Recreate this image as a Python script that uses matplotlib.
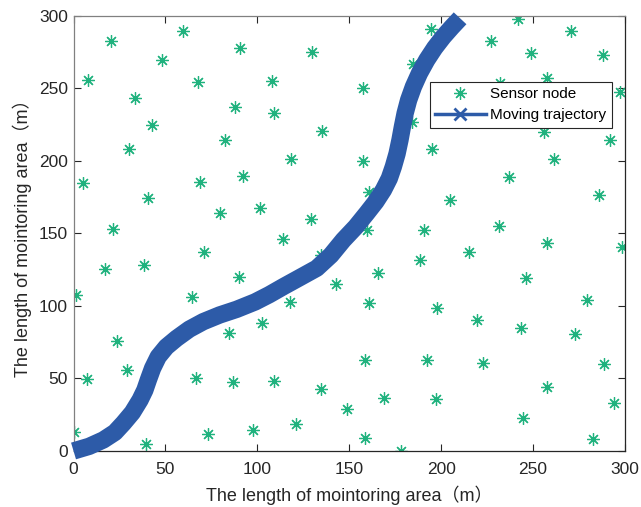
import matplotlib
matplotlib.use("Agg")
import matplotlib.pyplot as plt
from matplotlib.lines import Line2D

plt.rcParams['font.family'] = ['Liberation Sans', 'Noto Sans CJK SC', 'DejaVu Sans']

# Sensor node coordinates
sensor_x = [20.4, 59.4, 90.6, 8.1, 48.3, 67.6, 33.5, 88.0, 42.9, 30.0, 82.4,
            194.3, 129.6, 184.9, 108.0, 157.7, 109.1, 184.3, 135.2, 194.9, 118.5, 157.3,
            241.8, 270.5, 227.0, 248.7, 288.1, 257.6, 232.0, 297.3, 256.1, 291.9, 261.4,
            5.0, 68.8, 92.4, 40.5, 79.7, 101.7, 21.7, 71.0, 17.3, 38.4, 90.2, 1.4, 64.5,
            160.9, 129.1, 204.7, 114.1, 159.8, 190.9, 134.5, 188.5, 165.7, 142.8, 117.8,
            161.0, 198.0, 237.1, 286.1, 231.5, 257.8, 298.3, 215.3, 246.2, 279.4,
            23.5, 84.8, 102.6, 28.9, 7.5, 66.5, 86.6, 0.0, 39.4, 73.0, 97.4,
            158.8, 192.2, 109.1, 134.5, 168.9, 197.1, 149.0, 120.9, 158.8, 178.0,
            219.4, 243.3, 273.0, 222.6, 288.6, 257.5, 294.2, 244.4, 282.8]
sensor_y = [283.0, 289.4, 278.1, 255.9, 269.7, 254.3, 243.7, 237.0, 224.8, 208.1, 214.3,
            291.2, 275.4, 266.9, 255.2, 250.1, 233.3, 226.9, 220.7, 208.5, 201.4, 199.7,
            297.7, 289.9, 282.8, 274.7, 273.1, 257.4, 253.8, 247.8, 220.2, 214.5, 201.2,
            185.0, 185.5, 189.7, 174.5, 163.9, 167.9, 153.3, 137.0, 125.5, 128.3, 119.8, 107.8, 106.2,
            178.4, 160.2, 173.0, 146.2, 152.4, 152.2, 135.2, 131.7, 122.6, 115.4, 103.0,
            101.9, 98.3, 189.2, 176.6, 155.0, 143.7, 140.9, 137.0, 119.1, 104.1,
            76.1, 81.2, 88.5, 55.9, 49.7, 50.1, 47.4, 13.3, 4.6, 11.5, 14.5,
            62.8, 62.8, 48.3, 42.6, 36.3, 35.9, 28.8, 18.6, 9.0, 0.0,
            90.3, 84.6, 80.7, 60.9, 60.0, 43.9, 32.9, 22.6, 8.1]

# Moving trajectory
traj_x = [0.0, 8.5, 16.2, 22.5, 27.1, 32.0, 36.2, 38.8, 40.7, 43.0, 46.1, 50.5,
          56.1, 63.0, 70.6, 79.5, 88.8, 98.8, 106.5, 114.1, 123.0, 132.3, 140.0,
          146.8, 153.5, 159.5, 164.5, 168.6, 171.8, 174.0, 176.0, 177.6, 178.9,
          180.4, 182.3, 184.9, 188.2, 192.2, 196.5, 201.2, 205.8, 210.3]
traj_y = [0.0, 3.2, 7.6, 12.8, 19.1, 26.5, 35.2, 42.0, 49.0, 57.0, 65.0, 71.8,
          77.7, 84.0, 89.2, 93.8, 97.7, 102.8, 107.8, 113.3, 119.5, 126.0, 135.0,
          145.5, 154.5, 163.9, 172.0, 180.0, 188.0, 196.1, 205.0, 214.5, 223.5,
          232.9, 242.0, 251.2, 260.5, 269.7, 278.0, 285.7, 292.3, 298.4]

sensor_color = '#20B27E'
traj_color = '#2D5BA8'
asterisk = (8, 2, 0)

fig = plt.figure(figsize=(6.41, 5.07), dpi=100)
ax = fig.add_axes([0.1147, 0.1105, 0.8603, 0.858])

ax.plot(sensor_x, sensor_y, linestyle='none', marker=asterisk, markersize=9,
        markeredgewidth=0.9, color=sensor_color, zorder=2)
ax.plot(traj_x, traj_y, color=traj_color, linewidth=12.5, solid_capstyle='butt',
        solid_joinstyle='round', zorder=3, clip_on=False)

ax.set_xlim(0, 300)
ax.set_ylim(0, 300)
ax.set_xticks([0, 50, 100, 150, 200, 250, 300])
ax.set_yticks([0, 50, 100, 150, 200, 250, 300])
ax.tick_params(direction='in', top=True, right=True, labelsize=12.5, length=5,
               width=0.8, colors='#262626')
ax.tick_params(axis='x', pad=8)
ax.tick_params(axis='y', pad=4)
for side in ['bottom', 'right']:
    ax.spines[side].set_color('#262626')
for side in ['top', 'left']:
    ax.spines[side].set_color('#808080')
for s in ax.spines.values():
    s.set_linewidth(0.9)

ax.set_xlabel('The length of mointoring area（m）', fontsize=13, color='#262626', labelpad=6)
ax.set_ylabel('The length of mointoring area（m）', fontsize=13, color='#262626', labelpad=5)

handles = [
    Line2D([], [], linestyle='none', marker=asterisk, markersize=9,
           markeredgewidth=0.9, color=sensor_color),
    Line2D([], [], color=traj_color, linewidth=2.5, marker='x', markersize=8,
           markeredgewidth=2),
]
leg = ax.legend(handles, ['Sensor node', 'Moving trajectory'], loc='upper right',
                bbox_to_anchor=(0.976, 0.848), fontsize=11, frameon=True, fancybox=False,
                edgecolor='#262626', framealpha=1, handlelength=3.3, handletextpad=0.3,
                borderpad=0.35, labelspacing=0.45, borderaxespad=0, numpoints=1)
leg.get_frame().set_linewidth(0.8)

fig.savefig('out.png', dpi=100)
